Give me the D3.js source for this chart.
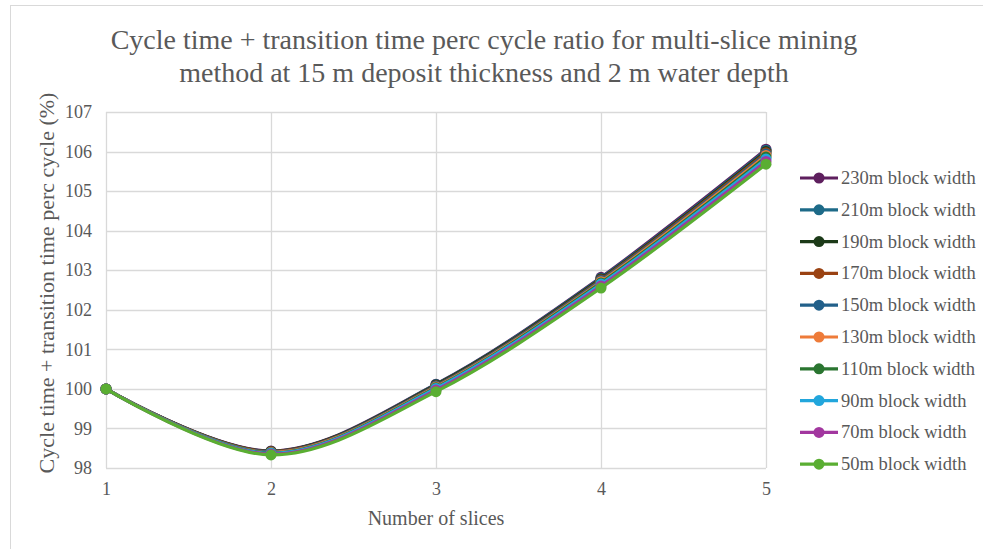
<!DOCTYPE html>
<html><head><meta charset="utf-8">
<script src="https://cdn.jsdelivr.net/npm/d3@7"></script>
<style>body{margin:0;background:#fff}svg{display:block}text,tspan{font-family:"Liberation Serif","Times New Roman",serif !important;fill:#595959}</style>
</head><body><svg id="c" width="983" height="549"></svg>
<script>
const slices = [1, 2, 3, 4, 5];
const seriesNames = ["230m block width","210m block width","190m block width","170m block width","150m block width","130m block width","110m block width","90m block width","70m block width","50m block width"];
const seriesColors = ["#5e1f5e","#1d6a88","#1c3a18","#9a4212","#22608a","#ee7b39","#2a7530","#22a6dc","#a2379f","#5aae32"];
const s230 = [100, 98.43, 100.12, 102.82, 106.06];
const s210 = [100, 98.42, 100.11, 102.80, 106.03];
const s190 = [100, 98.42, 100.10, 102.78, 106.00];
const s170 = [100, 98.41, 100.08, 102.76, 105.97];
const s150 = [100, 98.40, 100.07, 102.74, 105.94];
const s130 = [100, 98.39, 100.05, 102.71, 105.90];
const s110 = [100, 98.38, 100.03, 102.68, 105.86];
const s90  = [100, 98.37, 100.01, 102.65, 105.81];
const s70  = [100, 98.35, 99.97, 102.60, 105.75];
const s50  = [100, 98.33, 99.93, 102.55, 105.68];
const seriesValues = [s230,s210,s190,s170,s150,s130,s110,s90,s70,s50];
const yTicks = [98,99,100,101,102,103,104,105,106,107];
const xTicks = [1,2,3,4,5];
const title = ["Cycle time + transition time perc cycle ratio for multi-slice mining","method at 15 m deposit thickness and 2 m water depth"];
const xTitle = "Number of slices";
const yTitle = "Cycle time + transition time perc cycle  (%)";

const FF = '"Liberation Serif","Times New Roman",serif';
const svg = d3.select("#c");
svg.append("rect").attr("x",10.5).attr("y",5.5).attr("width",1000).attr("height",600)
  .attr("fill","#fff").attr("stroke","#d9d9d9");

const x = d3.scaleLinear().domain([1,5]).range([106,766]);
const y = d3.scaleLinear().domain([98,107]).range([468,112]);

const g = svg.append("g");
g.selectAll(".hg").data(yTicks).join("line")
  .attr("x1",x(1)).attr("x2",x(5)).attr("y1",d=>Math.round(y(d))+0.5).attr("y2",d=>Math.round(y(d))+0.5)
  .attr("stroke","#d9d9d9").attr("stroke-width",1.3);
g.selectAll(".vg").data(xTicks).join("line")
  .attr("y1",y(98)).attr("y2",y(107)).attr("x1",d=>Math.round(x(d))+0.5).attr("x2",d=>Math.round(x(d))+0.5)
  .attr("stroke","#d9d9d9").attr("stroke-width",1.3);

const ya = d3.axisLeft(y).tickValues(yTicks).tickSize(0).tickPadding(14);
const ayg = svg.append("g").attr("transform",`translate(${x(1)},0)`).call(ya).attr("font-family",FF);
ayg.select(".domain").remove();
ayg.selectAll("text").style("font-size","18px").attr("fill","#595959");
const xa = d3.axisBottom(x).tickValues(xTicks).tickSize(0).tickPadding(14).tickFormat(d3.format("d"));
const axg = svg.append("g").attr("transform",`translate(0,${y(98)})`).call(xa).attr("font-family",FF);
axg.select(".domain").remove();
axg.selectAll("text").style("font-size","18px").attr("fill","#595959");

const line = d3.line().x((d,i)=>x(slices[i])).y(d=>y(d)).curve(d3.curveCardinal.tension(0));
seriesValues.forEach((vals,k)=>{
  svg.append("path").datum(vals).attr("d",line).attr("fill","none")
    .attr("stroke",seriesColors[k]).attr("stroke-width",3.2).attr("stroke-linecap","round");
  svg.selectAll(null).data(vals).join("circle")
    .attr("cx",(d,i)=>x(slices[i])).attr("cy",d=>y(d)).attr("r",5.5).attr("fill",seriesColors[k]);
});

svg.append("text").attr("text-anchor","middle").style("font-size","28px").attr("font-family",FF)
  .selectAll("tspan").data(title).join("tspan").attr("x",484).attr("y",(d,i)=>49+i*33).text(d=>d);
svg.append("text").attr("x",436).attr("y",525).attr("text-anchor","middle").style("font-size","20px").attr("font-family",FF).text(xTitle);
svg.append("text").attr("transform","translate(54,283) rotate(-90)").attr("text-anchor","middle").style("font-size","22px").attr("font-family",FF).text(yTitle);

const lg = svg.append("g");
seriesNames.forEach((n,k)=>{
  const ly = 178 + k*31.8;
  lg.append("line").attr("x1",800).attr("x2",838).attr("y1",ly).attr("y2",ly).attr("stroke",seriesColors[k]).attr("stroke-width",3.2);
  lg.append("circle").attr("cx",819).attr("cy",ly).attr("r",5.5).attr("fill",seriesColors[k]);
  lg.append("text").attr("x",841).attr("y",ly+6).style("font-size","18.5px").attr("font-family",FF).text(n);
});
</script></body></html>
